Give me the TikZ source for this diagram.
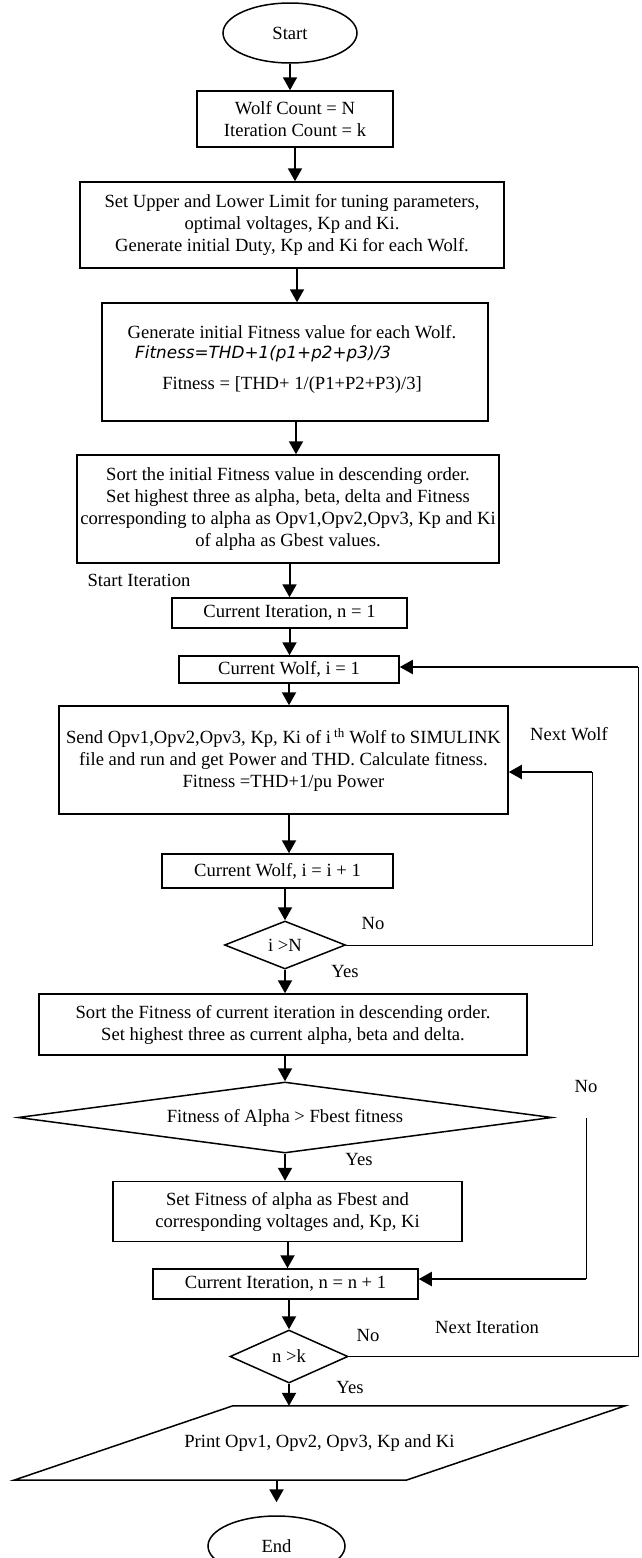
\documentclass[tikz,border=0pt]{standalone}
\usepackage{fontspec}
\setmainfont{Liberation Serif}
\newfontfamily\formulafont{DejaVu Sans}
\usetikzlibrary{arrows.meta,shapes.geometric,calc}

\begin{document}
\begin{tikzpicture}[x=1pt,y=-1pt,
  every node/.style={font=\fontsize{18.6}{22}\selectfont, inner sep=0pt},
  box/.style={draw, line width=1.5pt, align=center},
  term/.style={draw, ellipse, line width=1.5pt},
  decision/.style={draw, diamond, line width=1.5pt},
  flow/.style={line width=2pt, -{Triangle[width=14pt,length=13pt]}},
  link/.style={line width=1pt},
  tag/.style={text height=12pt, text depth=4pt}
]
\useasboundingbox (0,0) rectangle (642,1558);

% ---- initialisation ----
\node[term, minimum width=134pt, minimum height=60pt] (start) at (290,33) {Start};
\node[box, minimum width=196pt, minimum height=56pt] (b1) at (295,119)
  {Wolf Count = N\\Iteration Count = k};
\node[box, minimum width=424pt, minimum height=86pt] (b2) at (292,225)
  {Set Upper and Lower Limit for tuning parameters,\\optimal voltages, Kp and Ki.\\Generate initial Duty, Kp and Ki for each Wolf.};
\node[box, minimum width=386pt, minimum height=118pt] (b3) at (295,362) {};
\node[anchor=base] (t3a) at (292,338) {Generate initial Fitness value for each Wolf.};
\node[anchor=base west] (t3b) at (135,358) {\formulafont\itshape\fontsize{16.8}{20}\selectfont Fitness=THD+1(p1+p2+p3)/3};
\node[anchor=base] (t3c) at (292,389) {Fitness = [THD+ 1/(P1+P2+P3)/3]};
\node[box, minimum width=422pt, minimum height=108pt] (b4) at (288,509)
  {Sort the initial Fitness value in descending order.\\Set highest three as alpha, beta, delta and Fitness\\corresponding to alpha as Opv1,Opv2,Opv3, Kp and Ki\\of alpha as Gbest values.};
\node[tag] (lstart) at (139,582) {Start Iteration};

% ---- iteration loop ----
\node[box, minimum width=235pt, minimum height=30pt] (b5) at (289.5,613) {Current Iteration, n = 1};
\node[box, minimum width=220pt, minimum height=27pt] (b6) at (289,669.5) {Current Wolf, i = 1};
\node[box, minimum width=449pt, minimum height=108pt] (b7) at (283.5,760)
  {Send Opv1,Opv2,Opv3, Kp, Ki of i\,\textsuperscript{th} Wolf to SIMULINK\\file and run and get Power and THD. Calculate fitness.\\Fitness =THD+1/pu Power};
\node[box, minimum width=231pt, minimum height=34pt] (b8) at (277.5,871) {Current Wolf, i = i + 1};
\node[decision, aspect=2.5, minimum width=121pt, minimum height=48pt] (d1) at (285,945) {i >N};
\node[box, minimum width=488pt, minimum height=61pt] (b9) at (283,1024.5)
  {Sort the Fitness of current iteration in descending order.\\Set highest three as current alpha, beta and delta.};
\node[decision, aspect=7.5, minimum width=534pt, minimum height=71pt] (d2) at (285,1117.5)
  {Fitness of Alpha > Fbest fitness};
\node[box, minimum width=349pt, minimum height=60pt] (b10) at (287.5,1211.5)
  {Set Fitness of alpha as Fbest and\\corresponding voltages and, Kp, Ki};
\node[box, minimum width=265pt, minimum height=30pt] (b11) at (285.5,1284) {Current Iteration, n = n + 1};
\node[decision, aspect=2.2, minimum width=118pt, minimum height=53pt] (d3) at (289,1356.5) {n >k};

% ---- output ----
\node[minimum width=392pt, minimum height=74pt] (print) at (319.5,1443) {Print Opv1, Opv2, Opv3, Kp and Ki};
\draw[line width=1.5pt] ($(print.north west)+(109.5,0)$) -- ($(print.north east)+(109.5,0)$)
  -- ($(print.south east)+(-109.5,0)$) -- ($(print.south west)+(-109.5,0)$) -- cycle;
\node[term, minimum width=137pt, minimum height=60pt] (end) at (276.5,1546) {End};

% ---- branch labels ----
\node[tag] (nw1) at (569,736) {Next Wolf};
\node[tag] (no1) at (373,925) {No};
\node[tag] (yes1) at (345,973) {Yes};
\node[tag] (no2) at (586,1088) {No};
\node[tag] (yes2) at (359,1161) {Yes};
\node[tag] (no3) at (368,1337) {No};
\node[tag] (ni1) at (487,1329) {Next Iteration};
\node[tag] (yes3) at (350,1389) {Yes};

% ---- main flow ----
\draw[flow] (start.south) -- (start.south |- b1.north);
\draw[flow] (b1.south) -- (b1.south |- b2.north);
\draw[flow] (b2.south -| 297,0) -- (297,0 |- b3.north);
\draw[flow] (b3.south -| 296,0) -- (296,0 |- b4.north);
\draw[flow] (b4.south -| b5) -- (b5.north);
\draw[flow] (b5.south) -- (b5.south |- b6.north);
\draw[flow] (b6.south) -- (b6.south |- b7.north);
\draw[flow] (b7.south -| b6) -- (b6 |- b8.north);
\draw[flow] (b8.south -| d1) -- (d1.north);
\draw[flow] (d1.south) -- (d1.south |- b9.north);
\draw[flow] (b9.south -| d2) -- (d2.north);
\draw[flow] (d2.south) -- (d2.south |- b10.north);
\draw[flow] (b10.south) -- (b10.south |- b11.north);
\draw[flow] (b11.south -| d3) -- (d3.north);
\draw[flow] (d3.south) -- (d3.south |- print.north);
\draw[flow, shorten >=13pt] (end |- print.south) -- (end.north);

% ---- loops back ----
\coordinate (nwc) at (592,772);
\coordinate (nic) at (638,667);
\coordinate (fnt) at (586,1118);
\coordinate (fnb) at (586,1279);
\draw[link] (d1.east) -| (nwc);
\draw[flow] (nwc) -- (nwc -| b7.east);
\draw[link] (d3.east) -| (nic);
\draw[flow] (nic) -- (nic -| b6.east);
\draw[link] (fnt) -- (fnb);
\draw[flow] (fnb) -- (fnb -| b11.east);
\end{tikzpicture}
\end{document}
